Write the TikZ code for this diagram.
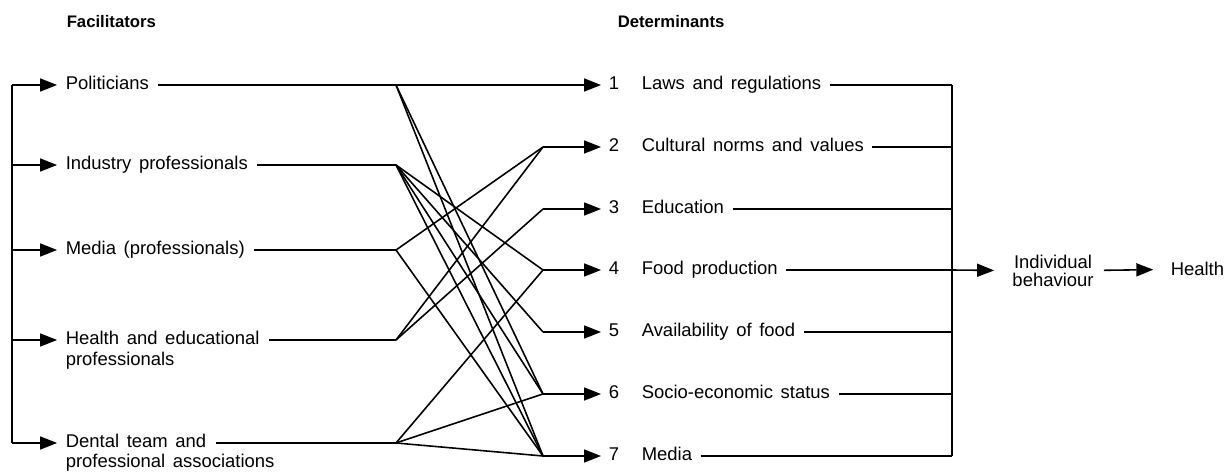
\documentclass[tikz,border=0pt]{standalone}
\usepackage{fontspec}
\setmainfont{Liberation Sans}[WordSpace=1.5]
\usetikzlibrary{arrows.meta,positioning}

\begin{document}
\begin{tikzpicture}[x=0.02cm,y=-0.02cm,line width=0.9pt,
		>={Triangle[length=3.4mm,width=2.6mm]},
		font=\fontsize{10.5}{12}\selectfont]
		\tikzstyle{head}=[inner sep=0,anchor=mid west,font=\fontsize{9.5}{11}\selectfont\bfseries]
		\tikzstyle{fac}=[inner sep=0,anchor=mid west]
		\tikzstyle{num}=[inner sep=0,anchor=mid]
		\tikzstyle{gap}=[shorten <=5pt]
		\useasboundingbox (0,0) rectangle (1224,472);

		\node[head] (fhead) at (66,23)  {Facilitators};
		\node[head] (dhead) at (617,23) {Determinants};

		% facilitators
		\node[fac] (pol) at (65,85)  {Politicians};
		\node[fac] (ind) at (65,165) {Industry professionals};
		\node[fac] (med) at (65,250) {Media (professionals)};
		\node[fac] (hea) at (65,340) {Health and educational};
		\node[fac,anchor=base west] (hea2) at ([yshift=-11.8pt]hea.base west) {professionals};
		\node[fac] (den) at (65,443) {Dental team and};
		\node[fac,anchor=base west] (den2) at ([yshift=-11.3pt]den.base west) {professional associations};

		\coordinate (ltop) at (12,85);
		\coordinate (lbot) at (12,443);
		\draw (ltop) -- (lbot);
		\foreach \f in {pol,ind,med,hea,den}
			\draw[->,shorten >=4.5pt] (\f.mid west -| ltop) -- (\f.mid west);

		\coordinate (fpol) at (396,85);
		\coordinate (find) at (396,165);
		\coordinate (fmed) at (396,250);
		\coordinate (fhea) at (396,340);
		\coordinate (fden) at (396,443);
		\foreach \f in {pol,ind,med,hea,den}
			\draw[gap] (\f.mid east) -- (f\f);

		% determinants
		\foreach \i/\y/\t in {1/85/Laws and regulations,2/147/Cultural norms and values,
				3/209/Education,4/270/Food production,5/332/Availability of food,
				6/394/Socio-economic status,7/456/Media} {
			\coordinate (j\i) at (543,\y);
			\node[num] (n\i) at (614,\y) {\i};
			\node[fac] (d\i) at (641,\y) {\t};
			\coordinate (r\i) at (952,\y);
			\draw[->,shorten >=4pt] (j\i) -- (n\i.mid west);
			\draw[shorten <=4.5pt] (d\i.mid east) -- (r\i);
		}
		\draw (r1) -- (r7);

		% who reaches which determinant
		\foreach \f/\j in {pol/1,pol/6,pol/7,ind/4,ind/5,ind/6,ind/7,med/2,med/7,
				hea/2,hea/3,den/4,den/6,den/7}
			\draw (f\f) -- (j\j);

		\node[align=center,inner sep=0,font=\fontsize{10.5}{10}\selectfont] (ib) at (1053,271) {Individual\\behaviour};
		\node[fac] (hl) at (1170,271) {Health};
		\draw[->,shorten >=10pt] (r4) -- (ib);
		\draw[->,shorten <=5.5pt,shorten >=9.5pt] (ib) -- (hl);
\end{tikzpicture}
\end{document}
